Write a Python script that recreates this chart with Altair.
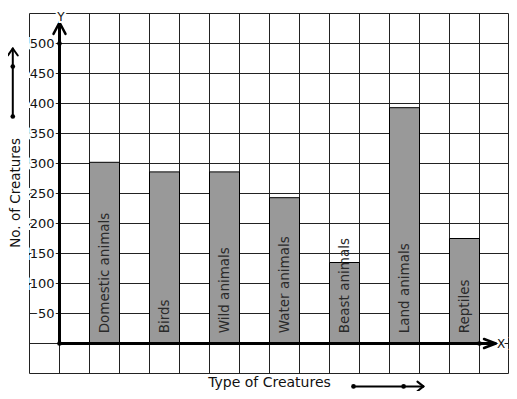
import altair as alt
import pandas as pd

# ---- data ----
categories = ["Domestic animals", "Birds", "Wild animals", "Water animals",
              "Beast animals", "Land animals", "Reptiles"]
counts = [302, 286, 286, 243, 135, 393, 175]
tick_values = [50, 100, 150, 200, 250, 300, 350, 400, 450, 500]
tick_labels = ["50", "100", "150", "200", "250", "300", "350", "400", "450", "500"]
x_title = "Type of Creatures"
y_title = "No. of Creatures"

FONT = "DejaVu Sans"
XMIN, XMAX = -1, 15
YMIN, YMAX = -50, 550
# half-pixel offsets keep the 1px grid lines crisp
xd0 = XMIN - 0.5 / 30
yd1 = YMAX + 0.5 / 0.6
xs = alt.Scale(domain=[xd0, xd0 + 16], nice=False, zero=False)
ys = alt.Scale(domain=[yd1 - 600, yd1], nice=False, zero=False)


def X(f):
    return alt.X(f, type="quantitative", scale=xs, axis=None)


def Y(f):
    return alt.Y(f, type="quantitative", scale=ys, axis=None)


def segs(rows, color, width, cap="butt"):
    df = pd.DataFrame(rows, columns=["x", "y", "x2", "y2"])
    return alt.Chart(df).mark_rule(color=color, strokeWidth=width, strokeCap=cap).encode(
        x=X("x"), y=Y("y"), x2="x2:Q", y2="y2:Q")


# grid
right_edge = XMAX - 1 / 30
grid_rows = [(c, YMIN, c, YMAX) for c in range(XMIN, XMAX)]
grid_rows += [(right_edge, YMIN, right_edge, YMAX)]
grid_rows += [(XMIN, v, right_edge, v) for v in range(YMIN, YMAX + 1, 50)]
grid = segs(grid_rows, "#222222", 1)

# bars
n = len(categories)
bars_df = pd.DataFrame({
    "cat": categories,
    "count": counts,
    "x0": [1 + 2 * i for i in range(n)],
    "x1": [2 + 2 * i for i in range(n)],
    "xc": [1.5 + 2 * i for i in range(n)],
    "base": [0] * n,
    "lab": [17] * n,
})
bars = alt.Chart(bars_df).mark_rect(fill="#999999", stroke="#000000", strokeWidth=1).encode(
    x=X("x0"), x2="x1:Q", y=Y("base"), y2="count:Q")
bar_text = alt.Chart(bars_df).mark_text(
    angle=270, align="left", baseline="middle", font=FONT, fontSize=13.5, color="#2a2a2a"
).encode(x=X("xc"), y=Y("lab"), text="cat:N")

# axes with arrows
axes = segs([(0, 0, 0, 534), (0, 0, 14.52, 0)], "#000000", 3)
heads = segs([(-0.2, 516, 0, 535), (0.2, 516, 0, 535),
              (14.15, 7.5, 14.54, 0), (14.15, -7.5, 14.54, 0)], "#000000", 2.5, "round")
side_arrows = segs([(9.8, -71.5, 12.13, -71.5), (11.93, -63.5, 12.13, -71.5), (11.93, -79.5, 12.13, -71.5),
                    (-1.557, 378.3, -1.557, 491.7), (-1.72, 480, -1.557, 491.7), (-1.39, 480, -1.557, 491.7)],
                   "#000000", 2, "round")
dots_df = pd.DataFrame({"x": [0, 0, 14, 9.8, 11.47, -1.557, -1.557],
                        "y": [0, 500, 0, -71.5, -71.5, 378.3, 461.7]})
dots = alt.Chart(dots_df).mark_circle(color="#000000", size=22, opacity=1).encode(x=X("x"), y=Y("y"))

# tick labels with white halo
ticks_df = pd.DataFrame({"v": tick_values, "t": tick_labels, "x": [-0.167] * len(tick_values)})
tick_halo = alt.Chart(ticks_df).mark_text(
    align="right", baseline="middle", font=FONT, fontSize=13, color="white",
    stroke="white", strokeWidth=4).encode(x=X("x"), y=Y("v"), text="t:N")
tick_text = alt.Chart(ticks_df).mark_text(
    align="right", baseline="middle", font=FONT, fontSize=13, color="#111111").encode(
    x=X("x"), y=Y("v"), text="t:N")

# axis letters
let_df = pd.DataFrame({"x": [0.05, 14.72], "y": [544, 0], "t": ["Y", "X"]})
let_halo = alt.Chart(let_df).mark_text(
    align="center", baseline="middle", font=FONT, fontSize=12, color="white",
    stroke="white", strokeWidth=4).encode(x=X("x"), y=Y("y"), text="t:N")
let_text = alt.Chart(let_df).mark_text(
    align="center", baseline="middle", font=FONT, fontSize=12, color="#111111").encode(
    x=X("x"), y=Y("y"), text="t:N")

# titles
xt_df = pd.DataFrame({"x": [7.0], "y": [-72.5], "t": [x_title]})
xt = alt.Chart(xt_df).mark_text(
    align="center", baseline="alphabetic", font=FONT, fontSize=14, color="#111111").encode(
    x=X("x"), y=Y("y"), text="t:N")
yt_df = pd.DataFrame({"x": [-1.45], "y": [251], "t": [y_title]})
yt = alt.Chart(yt_df).mark_text(
    angle=270, align="center", baseline="middle", font=FONT, fontSize=13.5, color="#111111").encode(
    x=X("x"), y=Y("y"), text="t:N")

chart = alt.layer(
    grid, bars, bar_text, axes, heads, side_arrows, dots,
    tick_halo, tick_text, let_halo, let_text, xt, yt
).properties(
    width=480, height=360,
    autosize="none",
    padding={"left": 21, "top": 5, "right": 0, "bottom": 18},
    background="white",
).configure_view(stroke=None)

chart.save("out.html", embed_options={"renderer": "svg", "actions": False})
